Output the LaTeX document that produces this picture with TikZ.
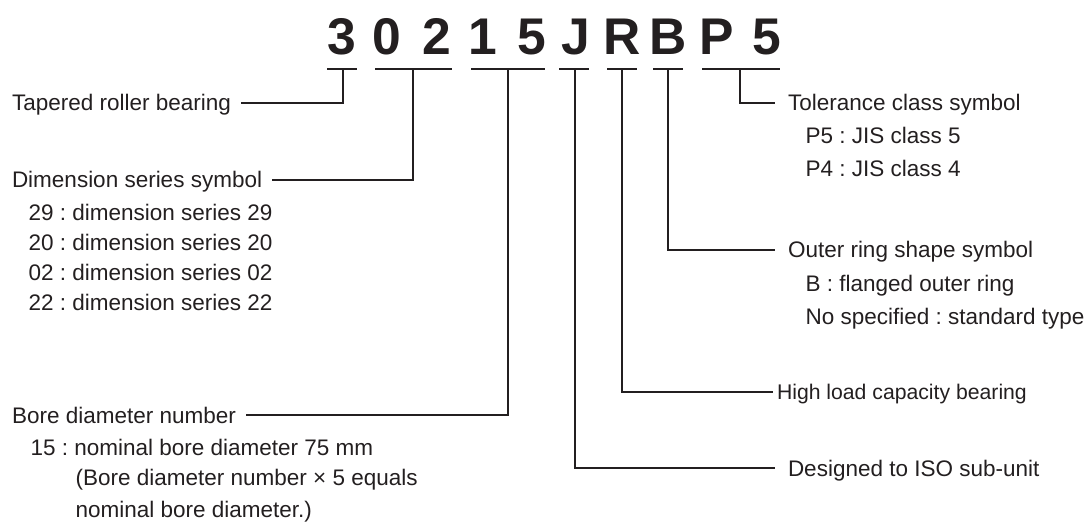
\documentclass[tikz,border=0pt]{standalone}
\usepackage{fontspec}
\setmainfont{Liberation Sans}
\definecolor{ink}{RGB}{35,31,32}
\frenchspacing

\begin{document}
\begin{tikzpicture}[x=0.5pt, y=-0.5pt, line width=0.6pt, color=ink,
    code/.style={font=\fontsize{25.8}{30}\selectfont\bfseries, anchor=base, inner sep=0pt},
    lab/.style={font=\fontsize{11.25}{13}\selectfont, anchor=west, inner sep=0pt, text height=8pt, text depth=0pt},
    leftlab/.style={lab, outer xsep=5pt},
    rightlab/.style={lab, outer xsep=6.5pt}]
        \useasboundingbox (0,0) rectangle (1089,524);

        % bearing number
        \node[code] (n3) at (342,55) {3};
        \node[code] (n0) at (387,55) {0};
        \node[code] (n2) at (437,55) {2};
        \node[code] (n1) at (483,55) {1};
        \node[code] (n5) at (532,55) {5};
        \node[code] (nJ) at (576,55) {J};
        \node[code] (nR) at (622,55) {R};
        \node[code] (nB) at (668,55) {B};
        \node[code] (nP) at (717,55) {P};
        \node[code] (n5b) at (767,55) {5};

        % bars under the symbols
        \draw (327,69) -- (357,69);
        \draw (375,69) -- (452,69);
        \draw (471,69) -- (545,69);
        \draw (559,69) -- (589,69);
        \draw (607,69) -- (637,69);
        \draw (653,69) -- (683,69);
        \draw (702,69) -- (780,69);
        \coordinate (b3) at (343,69);
        \coordinate (b02) at (413,69);
        \coordinate (b15) at (508,69);
        \coordinate (bJ) at (575,69);
        \coordinate (bR) at (622,69);
        \coordinate (bB) at (668,69);
        \coordinate (bP) at (740,69);

        % left side
        \node[leftlab] (tapered) at (2,103) {Tapered roller bearing};
        \node[leftlab] (dim) at (2,180) {Dimension series symbol};
        \node[lab] (d29) at (28,213) {29 : dimension series 29};
        \node[lab] (d20) at (28,243) {20 : dimension series 20};
        \node[lab] (d02) at (28,273) {02 : dimension series 02};
        \node[lab] (d22) at (28,303) {22 : dimension series 22};
        \node[leftlab] (bore) at (2,415) {Bore diameter number};
        \node[lab] (bore15) at (30,447) {15 : nominal bore diameter 75 mm};
        \node[lab] (borea) at (75,478) {(Bore diameter number × 5 equals};
        \node[lab] (boreb) at (75,509) {nominal bore diameter.)};

        % right side
        \node[rightlab] (tol) at (775,103) {Tolerance class symbol};
        \node[lab] (tolp5) at (805,136) {P5 : JIS class 5};
        \node[lab] (tolp4) at (805,169) {P4 : JIS class 4};
        \node[rightlab] (outer) at (775,250) {Outer ring shape symbol};
        \node[lab] (outerb) at (805,284) {B : flanged outer ring};
        \node[lab] (outerno) at (805,317) {No specified : standard type};
        \node[rightlab, font=\fontsize{10.6}{12}\selectfont, outer xsep=2pt] (load) at (773,392) {High load capacity bearing};
        \node[rightlab] (iso) at (775,468) {Designed to ISO sub-unit};

        \draw (b3) |- (tapered.east);
        \draw (b02) |- (dim.east);
        \draw (b15) |- (bore.east);
        \draw (bJ) |- (iso.west);
        \draw (bR) |- (load.west);
        \draw (bB) |- (outer.west);
        \draw (bP) |- (tol.west);
      \end{tikzpicture}
\end{document}
